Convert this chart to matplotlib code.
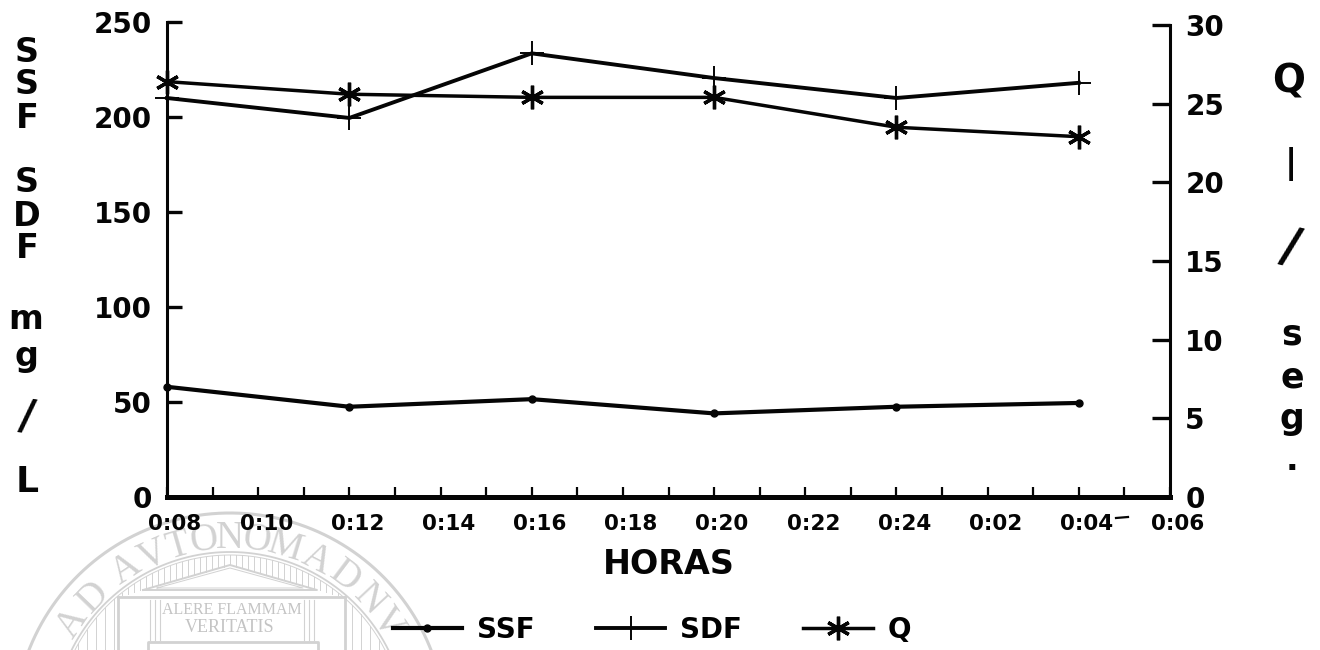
import numpy as np
import matplotlib
matplotlib.use('Agg')
import matplotlib.pyplot as plt
from matplotlib.transforms import ScaledTranslation

# values
horas = ['0:08', '0:10', '0:12', '0:14', '0:16', '0:18', '0:20', '0:22', '0:24', '0:02', '0:04', '0:06']
medida = [0, 2, 4, 6, 8, 10]
ssf = [58, 47.5, 51.5, 44, 47.5, 49.5]
sdf = [210, 199.5, 233.5, 220.5, 210, 218]
q = [26.4, 25.6, 25.4, 25.4, 23.5, 22.9]

ticks_izq = [0, 50, 100, 150, 200, 250]
ticks_der = [0, 5, 10, 15, 20, 25, 30]

W, H = 1320, 650
NEGRO = '#050505'
GRIS = '#d2d2d2'

fig = plt.figure(figsize=(W / 100, H / 100), dpi=100)

# overlay in pixel coords for the seal and the stacked axis titles
fondo = fig.add_axes([0, 0, 1, 1], zorder=0)
fondo.set_xlim(0, W)
fondo.set_ylim(H, 0)
fondo.axis('off')


def sello():
    cx, cy = 230, 729
    t = np.linspace(0, 2 * np.pi, 400)
    for r, lw in [(216, 2.2), (177, 1.3), (174, 0.7)]:
        fondo.plot(cx + r * np.cos(t), cy + r * np.sin(t), color=GRIS, lw=lw)

    letras = 'ADAVTONOMADNV'
    angulos = [-56, -46, -33, -24, -16, -8, 0, 8, 17, 27, 37, 47, 56]
    for letra, a in zip(letras, angulos):
        rad = np.radians(a)
        fondo.text(cx + 190 * np.sin(rad), cy - 190 * np.cos(rad), letra, rotation=-a,
                   ha='center', va='center', rotation_mode='anchor', color=GRIS,
                   family='Liberation Serif', fontsize=28)

    # fluting between the ring and the temple
    for x in np.arange(122, 342, 6):
        dx = x - cx
        y0 = cy - np.sqrt(174 ** 2 - dx ** 2)
        y1 = 567 + abs(dx) * 21 / 75 - 2
        if y1 > y0:
            fondo.plot([x, x], [y0, y1], color=GRIS, lw=0.7)
    for x in list(range(78, 118, 9)) + list(range(352, 386, 9)):
        dx = x - cx
        fondo.plot([x, x], [cy - np.sqrt(174 ** 2 - dx ** 2), H], color=GRIS, lw=0.7)

    # temple
    fondo.plot([143, 230, 317, 143], [590, 565, 590, 590], color=GRIS, lw=1.4)
    fondo.plot([157, 230, 303, 157], [588, 568, 588, 588], color=GRIS, lw=0.7)
    fondo.plot([118, 118], [597, H], color=GRIS, lw=2)
    fondo.plot([345, 345], [597, H], color=GRIS, lw=2)
    fondo.plot([118, 345], [597, 597], color=GRIS, lw=2)
    fondo.plot([148, 148, 318, 318], [H, 642, 642, H], color=GRIS, lw=2)
    for x in [150, 155, 160, 304, 309, 314]:
        fondo.plot([x, x], [600, 640], color=GRIS, lw=0.8)
    fondo.text(232, 610, 'ALERE FLAMMAM', ha='center', va='center', color='#c4c4c4',
               family='Liberation Serif', fontsize=11.5)
    fondo.text(230, 628, 'VERITATIS', ha='center', va='center', color='#c4c4c4',
               family='Liberation Serif', fontsize=13)


sello()

# stacked letters of both axis titles: x, y, text, size, line spacing, rotation
bloques = [(27, 85, 'S\nS\nF', 24, 1.0, 0), (27, 216, 'S\nD\nF', 24, 1.0, 0), (26, 338, 'm\ng', 24, 1.15, 0),
           (27, 417, '/', 31, 1, -8), (27, 482, 'L', 26, 1, 0),
           (1289, 82, 'Q', 28, 1, 0), (1291, 164, '|', 24, 1, 0), (1290, 248, '/', 36, 1, -14),
           (1292, 377, 's\ne\ng', 25, 1.3, 0), (1292, 460, '.', 24, 1, 0)]
for x, y, s, tam, esp, rot in bloques:
    fondo.text(x, y, s, ha='center', va='center', ma='center', color=NEGRO, fontweight='bold',
               fontsize=tam, linespacing=esp, rotation=rot)

ax = fig.add_axes([167 / W, (H - 497) / H, 1003 / W, 475 / H], zorder=2)
ax.patch.set_alpha(0)
ax2 = ax.twinx()
ax2.patch.set_alpha(0)

ax.set_xlim(0, 11)
ax.set_ylim(0, 250)
ax2.set_ylim(0, 30.19)

for a in (ax, ax2):
    a.spines['top'].set_visible(False)
    a.spines['left'].set_linewidth(2.2)
    a.spines['right'].set_linewidth(2.2)
    a.spines['bottom'].set_linewidth(3.6)
    for lado in ('left', 'right', 'bottom'):
        a.spines[lado].set_color(NEGRO)
ax2.spines['right'].set_bounds(0, 30)
ax.spines['right'].set_visible(False)
ax2.spines['left'].set_visible(False)

l1, = ax.plot(medida, ssf, color=NEGRO, lw=3, marker='o', ms=5, label='SSF', clip_on=False)
l2, = ax.plot(medida, sdf, color=NEGRO, lw=2.8, marker='+', ms=17, mew=1.4, label='SDF', clip_on=False)
l3, = ax2.plot(medida, q, color=NEGRO, lw=2.5, marker=(6, 2, 0), ms=17, mew=2.4, label='Q', clip_on=False)

ax.set_yticks(ticks_izq)
ax.tick_params(axis='y', direction='in', length=11, width=2.4, pad=11, labelsize=20, colors=NEGRO)
ax2.set_yticks(ticks_der)
ax2.tick_params(axis='y', direction='in', length=13, width=2.4, pad=11, labelsize=20, colors=NEGRO)
for lab in ax.get_yticklabels() + ax2.get_yticklabels():
    lab.set_fontweight('bold')

ax.set_xticks(range(len(horas)))
ax.set_xticks(np.arange(0.5, 11, 1), minor=True)
ax.set_xticklabels(horas, fontsize=15.5, fontweight='bold', color=NEGRO)
ax.tick_params(axis='x', which='both', direction='in', length=7.5, width=1.6, pad=12, color=NEGRO)
corre = ScaledTranslation(8 / 100, 0, fig.dpi_scale_trans)
for lab in ax.get_xticklabels():
    lab.set_transform(lab.get_transform() + corre)

# scan mark beside the 0:04 label
fondo.plot([1116, 1128], [518, 517], color=NEGRO, lw=1.6)

fondo.text(669, 565, 'HORAS', ha='center', va='center', color=NEGRO, fontweight='bold', fontsize=24)

fig.legend(handles=[l1, l2, l3], loc='center left', bbox_to_anchor=(376 / W, (H - 630) / H), ncol=3,
           frameon=False, handlelength=2.5, handletextpad=0.54, columnspacing=2.2, borderpad=0.1,
           prop={'weight': 'bold', 'size': 20})

fig.savefig('out.png', dpi=100)
